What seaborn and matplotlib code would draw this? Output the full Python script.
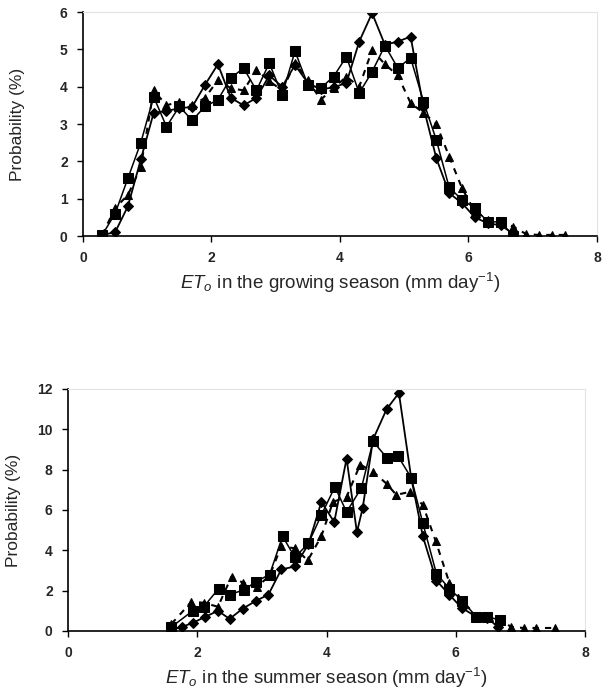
import numpy as np
import pandas as pd
import matplotlib
matplotlib.use('Agg')
import matplotlib.pyplot as plt
import seaborn as sns

# growing season (top panel)
grow_diamond_x = [0.3, 0.5, 0.7, 0.9, 1.1, 1.3, 1.5, 1.7, 1.9, 2.1, 2.3, 2.5, 2.7, 2.9, 3.1, 3.3, 3.5, 3.7,
                  3.9, 4.1, 4.3, 4.5, 4.7, 4.9, 5.1, 5.3, 5.5, 5.7, 5.9, 6.1, 6.3, 6.5, 6.7]
grow_diamond_y = [0.03, 0.1, 0.8, 2.05, 3.3, 3.35, 3.42, 3.46, 4.05, 4.6, 3.7, 3.5, 3.7, 4.3, 4.0, 4.58, 4.1, 3.93,
                  3.98, 4.1, 5.21, 5.97, 5.12, 5.21, 5.34, 3.45, 2.08, 1.15, 0.88, 0.5, 0.34, 0.29, 0.06]

grow_square_x = [0.3, 0.5, 0.7, 0.9, 1.1, 1.3, 1.5, 1.7, 1.9, 2.1, 2.3, 2.5, 2.7, 2.9, 3.1, 3.3, 3.5, 3.7,
                 3.9, 4.1, 4.3, 4.5, 4.7, 4.9, 5.1, 5.3, 5.5, 5.7, 5.9, 6.1, 6.3, 6.5, 6.7]
grow_square_y = [0.03, 0.6, 1.55, 2.5, 3.73, 2.93, 3.47, 3.1, 3.47, 3.65, 4.23, 4.5, 3.9, 4.63, 3.78, 4.95, 4.05, 3.96,
                 4.27, 4.8, 3.83, 4.4, 5.1, 4.5, 4.77, 3.6, 2.57, 1.3, 0.97, 0.75, 0.38, 0.38, 0.0]

grow_triangle_x = [0.3, 0.5, 0.7, 0.9, 1.1, 1.3, 1.5, 1.7, 1.9, 2.1, 2.3, 2.5, 2.7, 2.9, 3.1, 3.3, 3.5, 3.7,
                   3.9, 4.1, 4.3, 4.5, 4.7, 4.9, 5.1, 5.3, 5.5, 5.7, 5.9, 6.1, 6.3, 6.5, 6.7, 6.9, 7.1, 7.3, 7.5]
grow_triangle_y = [0.03, 0.75, 1.1, 1.85, 3.9, 3.5, 3.6, 3.5, 3.7, 4.18, 3.96, 3.9, 4.45, 4.15, 3.9, 4.63, 4.18, 3.65,
                   3.96, 4.27, 4.0, 4.98, 4.6, 4.3, 3.56, 3.3, 3.0, 2.13, 1.28, 0.65, 0.43, 0.38, 0.25, 0.05, 0.03,
                   0.03, 0.03]

# summer season (bottom panel)
sum_diamond_x = [1.6, 1.76, 1.93, 2.12, 2.32, 2.5, 2.7, 2.91, 3.1, 3.3, 3.51, 3.72, 3.92, 4.12, 4.31, 4.47, 4.56,
                 4.72, 4.93, 5.12, 5.31, 5.49, 5.7, 5.9, 6.09, 6.32, 6.49, 6.65]
sum_diamond_y = [0.05, 0.2, 0.4, 0.7, 1.0, 0.6, 1.1, 1.5, 1.8, 3.05, 3.2, 4.3, 6.4, 5.4, 8.55, 4.9, 6.1,
                 9.5, 11.0, 11.8, 7.6, 4.7, 2.5, 1.8, 1.15, 0.7, 0.65, 0.2]

sum_square_x = [1.6, 1.93, 2.1, 2.33, 2.5, 2.73, 2.91, 3.12, 3.32, 3.51, 3.72, 3.92, 4.13, 4.31, 4.54, 4.72, 4.93,
                5.1, 5.31, 5.49, 5.7, 5.9, 6.1, 6.32, 6.49, 6.68]
sum_square_y = [0.2, 1.0, 1.2, 2.1, 1.8, 2.05, 2.45, 2.8, 4.7, 3.65, 4.35, 5.75, 7.15, 5.9, 7.1, 9.4, 8.6,
                8.7, 7.6, 5.35, 2.85, 2.1, 1.5, 0.7, 0.7, 0.55]

sum_triangle_x = [1.6, 1.91, 2.1, 2.32, 2.53, 2.7, 2.93, 3.12, 3.3, 3.51, 3.71, 3.92, 4.1, 4.31, 4.52, 4.72, 4.93,
                  5.08, 5.29, 5.49, 5.69, 5.9, 6.1, 6.33, 6.52, 6.68, 6.86, 7.05, 7.24, 7.54]
sum_triangle_y = [0.35, 1.45, 1.4, 1.2, 2.7, 2.4, 2.2, 2.75, 4.2, 4.1, 3.5, 4.7, 6.4, 6.65, 8.25, 7.9, 7.3,
                  6.75, 6.9, 6.25, 4.45, 2.4, 1.5, 0.7, 0.7, 0.55, 0.2, 0.15, 0.15, 0.15]

sns.set_style('white')
plt.rcParams['font.family'] = ['Liberation Sans', 'DejaVu Sans']
plt.rcParams['mathtext.fontset'] = 'custom'
plt.rcParams['mathtext.rm'] = 'Liberation Sans'
plt.rcParams['mathtext.it'] = 'Liberation Sans:italic'

fig = plt.figure(figsize=(6.03, 6.94), dpi=100)
ax1 = fig.add_axes([0.1376, 0.6599, 0.8524, 0.3228])
ax2 = fig.add_axes([0.1128, 0.0908, 0.8574, 0.3487])


def draw(ax, xd, yd, xs, ys, xt, yt):
    sns.lineplot(x=xd, y=yd, ax=ax, color='black', lw=1.3, marker='D', markersize=5,
                 markeredgecolor='black', estimator=None)
    sns.lineplot(x=xs, y=ys, ax=ax, color='black', lw=1.1, marker='s', markersize=6.5,
                 markeredgecolor='black', estimator=None)
    sns.lineplot(x=xt, y=yt, ax=ax, color='black', lw=1.5, marker='^', markersize=6,
                 markeredgecolor='black', estimator=None, dashes=False, linestyle=(0, (3, 3)))


draw(ax1, grow_diamond_x, grow_diamond_y, grow_square_x, grow_square_y, grow_triangle_x, grow_triangle_y)
draw(ax2, sum_diamond_x, sum_diamond_y, sum_square_x, sum_square_y, sum_triangle_x, sum_triangle_y)

for ax, ymax, ystep, ypad in [(ax1, 6, 1, 25), (ax2, 12, 2, 12)]:
    ax.set_xlim(0, 8)
    ax.set_ylim(0, ymax)
    ax.set_xticks([0, 2, 4, 6, 8])
    ax.set_yticks(np.arange(0, ymax + 1, ystep))
    ax.tick_params(axis='both', direction='out', length=4, width=1, color='black',
                   labelsize=10, pad=7, bottom=True, left=True)
    for lab in ax.get_xticklabels() + ax.get_yticklabels():
        lab.set_fontweight('bold')
    ax.spines['left'].set_color('black')
    ax.spines['bottom'].set_color('black')
    ax.spines['left'].set_linewidth(1.2)
    ax.spines['bottom'].set_linewidth(1.2)
    ax.spines['top'].set_color('#e4e4e4')
    ax.spines['right'].set_color('#e4e4e4')
    ax.set_ylabel('Probability (%)', fontsize=12.5, labelpad=ypad)

ax1.set_xlabel(r'$ET_o$ in the growing season (mm day$^{-1}$)', fontsize=13.5, labelpad=4)
ax2.set_xlabel(r'$ET_o$ in the summer season (mm day$^{-1}$)', fontsize=13.5, labelpad=4)

fig.savefig('out.png', dpi=100)
